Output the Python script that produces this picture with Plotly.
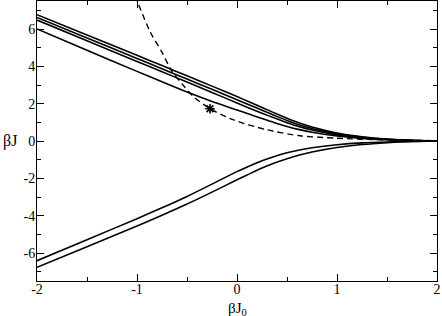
import plotly.graph_objects as go

x_grid = [-2, -1.5, -1, -0.75, -0.5, -0.25, 0, 0.125, 0.25, 0.375, 0.5, 0.625, 0.75, 1.0, 1.25, 1.5, 1.75, 2.0]

upper_1 = [6.77, 5.68, 4.59, 4.04, 3.49, 2.94, 2.38, 2.09, 1.80, 1.50, 1.22, 0.96, 0.75, 0.43, 0.23, 0.11, 0.04, 0.0]
upper_2 = [6.62, 5.52, 4.42, 3.87, 3.32, 2.77, 2.21, 1.93, 1.65, 1.37, 1.10, 0.86, 0.67, 0.38, 0.20, 0.09, 0.03, 0.0]
upper_3 = [6.48, 5.37, 4.26, 3.71, 3.16, 2.60, 2.04, 1.76, 1.49, 1.23, 0.98, 0.76, 0.59, 0.33, 0.17, 0.08, 0.03, 0.0]
upper_4 = [6.00, 4.86, 3.73, 3.17, 2.62, 2.12, 1.66, 1.43, 1.20, 0.98, 0.78, 0.61, 0.47, 0.27, 0.14, 0.07, 0.03, 0.0]

lower_1 = [-6.41, -5.29, -4.16, -3.58, -2.97, -2.31, -1.64, -1.34, -1.06, -0.83, -0.63, -0.48, -0.36, -0.20, -0.10, -0.05, -0.02, 0.0]
lower_2 = [-6.77, -5.66, -4.55, -3.98, -3.38, -2.74, -2.08, -1.76, -1.45, -1.18, -0.95, -0.75, -0.59, -0.35, -0.19, -0.09, -0.03, 0.0]

dashed_x = [-1.02, -0.87, -0.75, -0.65, -0.54, -0.44, -0.27, -0.04, 0.3, 0.63, 1.0, 1.5, 2.0]
dashed_y = [7.8, 5.87, 4.75, 3.73, 3.0, 2.4, 1.73, 1.14, 0.6, 0.28, 0.15, 0.06, 0.02]

star_x = [-0.27]
star_y = [1.73]

x_ticks = [-2, -1, 0, 1, 2]
x_ticktext = ["-2", "-1", "0", "1", "2"]
y_ticks = [-6, -4, -2, 0, 2, 4, 6]
y_ticktext = ["-6", "-4", "-2", "0", "2", "4", "6"]

fig = go.Figure()
for ys in [upper_1, upper_2, upper_3, upper_4, lower_1, lower_2]:
    fig.add_trace(go.Scatter(x=x_grid, y=ys, mode="lines",
                             line=dict(color="black", width=1.6, shape="spline", smoothing=0.8),
                             showlegend=False, hoverinfo="skip"))

fig.add_trace(go.Scatter(x=dashed_x, y=dashed_y, mode="lines",
                         line=dict(color="black", width=1.4, dash="6px,4px", shape="spline", smoothing=0.8),
                         showlegend=False, hoverinfo="skip"))
fig.add_trace(go.Scatter(x=star_x, y=star_y, mode="markers",
                         marker=dict(symbol="asterisk-open", size=8, color="black",
                                     line=dict(color="black", width=1.6)),
                         showlegend=False, hoverinfo="skip"))

font_family = "Liberation Serif"
axis_common = dict(showgrid=False, zeroline=False, showline=True, linecolor="black", linewidth=1,
                   mirror="ticks", ticks="inside", ticklen=7, tickcolor="black", tickwidth=1,
                   tickfont=dict(family=font_family, size=14, color="black"))

fig.update_xaxes(range=[-2, 2], tickmode="array", tickvals=x_ticks, ticktext=x_ticktext,
                 ticklabelstandoff=-5,
                 minor=dict(dtick=0.5, ticks="inside", ticklen=4, tickcolor="black", tickwidth=1, showgrid=False),
                 **axis_common)
fig.update_yaxes(range=[-7.5, 7.5], tickmode="array", tickvals=y_ticks, ticktext=y_ticktext,
                 ticklabelstandoff=-2,
                 minor=dict(dtick=1, ticks="inside", ticklen=4, tickcolor="black", tickwidth=1, showgrid=False),
                 **axis_common)

fig.add_annotation(text="βJ", xref="paper", yref="y", x=-0.067, y=0, xanchor="center", yanchor="middle",
                   showarrow=False, font=dict(family=font_family, size=16, color="black"))
fig.add_annotation(text="βJ<sub>0</sub>", xref="x", yref="paper", x=0, y=-0.066, xanchor="center", yanchor="top",
                   borderpad=0, showarrow=False, font=dict(family=font_family, size=15, color="black"))

fig.update_layout(width=442, height=316, margin=dict(l=37, r=5, t=1, b=35),
                  plot_bgcolor="white", paper_bgcolor="white")

fig.write_html("out.html", post_script="document.body.style.margin='0';",
               config={"displayModeBar": False})
